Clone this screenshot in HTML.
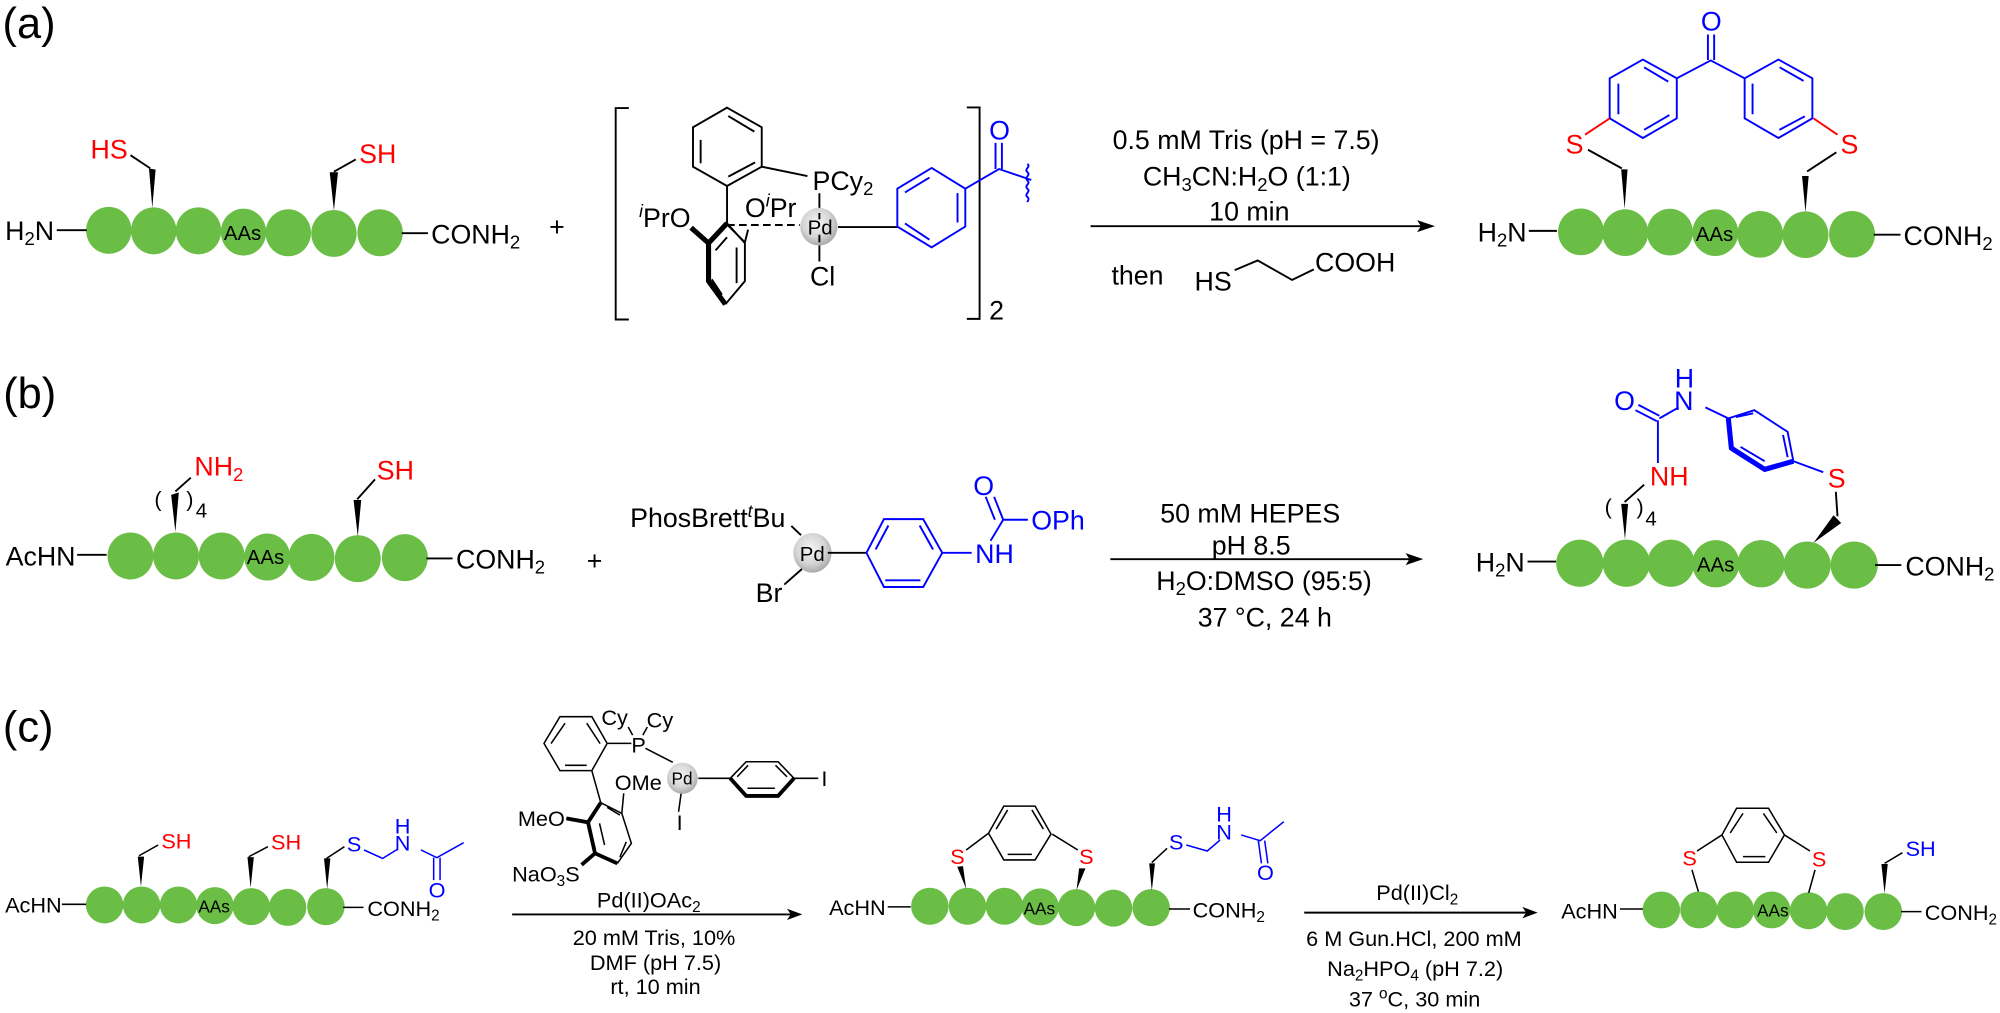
<!DOCTYPE html>
<html><head><meta charset="utf-8"><title>Scheme</title>
<style>
html,body{margin:0;padding:0;background:#fff;width:2000px;height:1013px;overflow:hidden}
svg{display:block}
text{font-family:"Liberation Sans",Arial,sans-serif;fill:#000}
.f21{font-size:21px}.f17{font-size:17px}.f16{font-size:16px}.f13{font-size:13.5px}.f34{font-size:34px}
.r{fill:#f00}.u{fill:#00f}
.k{stroke:#000;stroke-width:1.5;fill:none}
.kb{stroke:#000;stroke-width:4;fill:none;stroke-linejoin:round}
.kc{stroke:#000;stroke-width:1.2;fill:none}
.kd{stroke:#000;stroke-width:3;fill:none;stroke-linejoin:round}
.bl{stroke:#00f;stroke-width:1.5;fill:none}
.bc{stroke:#00f;stroke-width:1.2;fill:none}
.rl{stroke:#f00;stroke-width:1.5;fill:none}
.g{fill:#6abd45}
i{font-style:italic}
</style></head><body>
<svg width="2000" height="1013" viewBox="0 0 1568 794.2" preserveAspectRatio="none" xmlns="http://www.w3.org/2000/svg">
<defs><radialGradient id="pd" cx="45%" cy="40%" r="62%"><stop offset="0" stop-color="#f4f4f4"/><stop offset=".6" stop-color="#d6d6d6"/><stop offset="1" stop-color="#a6a6a6"/></radialGradient></defs>
<rect width="1568" height="795" fill="#fff"/>

<text class="f34" x="2" y="30">(a)</text>
<text class="f34" x="2.5" y="320">(b)</text>
<text class="f34" x="2.3" y="581.5">(c)</text>

<!-- PANEL A left -->
<g class="g"><ellipse cx="85.3" cy="180.6" rx="17.8" ry="18.4"/><ellipse cx="120.5" cy="181" rx="17.8" ry="18.4"/><ellipse cx="155.6" cy="181" rx="17.8" ry="18.4"/><ellipse cx="190.9" cy="182" rx="17.8" ry="18.4"/><ellipse cx="226" cy="182.5" rx="17.8" ry="18.4"/><ellipse cx="261.8" cy="183" rx="17.8" ry="18.4"/><ellipse cx="298" cy="182.5" rx="17.8" ry="18.4"/></g>
<path class="k" d="M44.5 180.5H68M315 182.8H335.5M102.3 121.7L117.7 131.9M278.9 125L261.8 134.6"/>
<path d="M116.8 132L122 133L119.4 163ZM258.5 135L265 135L261.8 165Z"/>
<text class="f21" x="4" y="188">H<tspan font-size="14.5" dy="4">2</tspan><tspan dy="-4">N</tspan></text>
<text class="f21 r" x="71" y="124.4">HS</text>
<text class="f21 r" x="281.6" y="128">SH</text>
<text class="f16" x="175.5" y="188">AAs</text>
<text class="f21" x="338" y="191">CONH<tspan font-size="14.5" dy="4">2</tspan></text>
<text class="f21" x="430.5" y="185">+</text>

<!-- brackets -->
<path class="k" d="M493 84.7H482.7V250.5H493M758 84.2H768V250H758"/>
<text class="f21" x="775.5" y="250.5">2</text>

<!-- catalyst a -->
<path class="k" d="M570 84.4L597.2 99.8V130.7L570 145.8L543.3 130.7V99.8ZM549.3 109.7V128M571 91L591.4 103.2M571 138.5L592 127.3M597.2 130.7L633 138M570 145.8V175M642.4 151.5V170M642.4 185.5V205M657 178H703.5"/>
<path class="k" stroke-dasharray="6 3.4" d="M570 176.4H627"/>
<path class="k" d="M570 175L584 190.6V220.4L568.7 238.5M577.5 194V222M561 196.3L570 186M558 219L566 231M570 176L584 190L586.5 180"/>
<path class="kb" d="M541.8 178.5L555.5 190.6L570 175M555.5 190.6V220.4L568.7 238.5"/>
<ellipse cx="642" cy="177.7" rx="14.6" ry="14.8" fill="url(#pd)"/>
<text class="f21" x="637" y="149">PCy<tspan font-size="14.5" dy="4">2</tspan></text>
<text class="f21" x="584" y="170">O<tspan font-size="14" font-style="italic" dy="-8">i</tspan><tspan dy="8">Pr</tspan></text>
<text class="f21" x="501" y="178"><tspan font-size="14" font-style="italic" dy="-8">i</tspan><tspan dy="8">PrO</tspan></text>
<path class="k" d="M642.4 167V172M642.4 184V190"/>
<text class="f16" x="633.2" y="184">Pd</text>
<text class="f21" x="635" y="224">Cl</text>
<path class="bl" d="M730.4 131.7L756.8 147.9V177.6L730.4 193.9L703.5 177.6V147.9ZM709.5 150.9L728.7 139.2M750.7 151.4V174.4M709.5 175.2L728.7 187.9M756.8 147.9L783.2 132.5L808.5 141.1M780.5 112V132.5M785.5 112V132.5M805.5 128.5c3 2.5 -3 4 0 6.5c3 2.5 -3 4 0 6.5c3 2.5 -3 4 0 6.5c3 2.5 -3 4 0 6.5c2 1.5 0 3 0 4"/>
<text class="f21 u" x="775.5" y="109.5">O</text>

<!-- arrow a -->
<path class="k" d="M855 177.3H1118"/><path d="M1125 177.3L1111 172.6L1114 177.3L1111 182Z"/>
<text class="f21" x="872.3" y="116.8">0.5 mM Tris (pH = 7.5)</text>
<text class="f21" x="896" y="145.6">CH<tspan font-size="14.5" dy="4">3</tspan><tspan dy="-4">CN:H</tspan><tspan font-size="14.5" dy="4">2</tspan><tspan dy="-4">O (1:1)</tspan></text>
<text class="f21" x="948" y="172.8">10 min</text>
<text class="f21" x="871.4" y="223">then</text>
<text class="f21" x="936.5" y="227.8">HS</text>
<path class="k" d="M968 211.8L986 204.2L1013 219.5L1030 211.2"/>
<text class="f21" x="1031" y="212.8">COOH</text>

<!-- product a -->
<g class="g"><ellipse cx="1239.5" cy="181.8" rx="18" ry="18.3"/><ellipse cx="1274.2" cy="182.4" rx="18" ry="18.3"/><ellipse cx="1309.2" cy="182" rx="18" ry="18.3"/><ellipse cx="1344.8" cy="182.4" rx="18" ry="18.3"/><ellipse cx="1380" cy="183.7" rx="18" ry="18.3"/><ellipse cx="1415.5" cy="184" rx="18" ry="18.3"/><ellipse cx="1452" cy="183.7" rx="18" ry="18.3"/></g>
<path class="k" d="M1198.6 181H1220.6M1469 184H1490M1245 117.4L1271.5 132M1416.8 134.4L1439.7 119.4"/>
<path d="M1271 132.8L1276 132.8L1273.7 163.8ZM1412.8 138L1418 138L1415.5 166.4Z"/>
<path class="bl" d="M1288 46.7L1314.6 61.4V92.8L1288 108.2L1262 92.8V61.4ZM1268.8 65.6V89.6M1289 52.8L1307.9 64M1289 101.8L1308.8 90.2M1394.3 46.7L1420.9 61.4V92.8L1394.3 108.2L1367.8 92.8V61.4ZM1374 65.6V89.6M1395.2 52.8L1414 63.4M1395 101.8L1415 91.2M1314.6 61.4L1341.2 47.4L1367.8 61.4M1339 27V47M1343.9 27V47"/>
<path class="rl" d="M1242.7 105.6L1262 92.8M1421.8 92.8L1440.6 105.6"/>
<text class="f21 u" x="1333.5" y="24">O</text>
<text class="f21 r" x="1227.5" y="120.3">S</text>
<text class="f21 r" x="1443" y="120.3">S</text>
<text class="f21" x="1158.5" y="189.4">H<tspan font-size="14.5" dy="4">2</tspan><tspan dy="-4">N</tspan></text>
<text class="f16" x="1329.5" y="188.8">AAs</text>
<text class="f21" x="1492.4" y="192">CONH<tspan font-size="14.5" dy="4">2</tspan></text>

<!-- PANEL B left -->
<g class="g"><ellipse cx="102.3" cy="435.9" rx="18" ry="18.4"/><ellipse cx="138" cy="435.9" rx="18" ry="18.4"/><ellipse cx="173.8" cy="435.9" rx="18" ry="18.4"/><ellipse cx="209.5" cy="436.7" rx="18" ry="18.4"/><ellipse cx="244.2" cy="437" rx="18" ry="18.4"/><ellipse cx="280.5" cy="438" rx="18" ry="18.4"/><ellipse cx="317.4" cy="437.2" rx="18" ry="18.4"/></g>
<path class="k" d="M60.5 435H83.6M334.4 437.8H354.8M149.6 374.5L137.5 385.3M294 375.8L280 391.5"/>
<path d="M134.2 388L140.2 386L137.5 417ZM277.2 392L283.2 392L280.5 420.5Z"/>
<text class="f21" x="4.4" y="443.4">AcHN</text>
<text class="f16" x="193.5" y="442">AAs</text>
<text class="f21" x="357.5" y="445.6">CONH<tspan font-size="14.5" dy="4">2</tspan></text>
<text class="f21" x="460" y="447">+</text>
<text class="f21 r" x="152.4" y="373">NH<tspan font-size="14.5" dy="4">2</tspan></text>
<text class="f21 r" x="295.4" y="375.8">SH</text>
<text class="f17" x="121" y="397">(</text><text class="f17" x="146" y="397">)</text>
<text class="f16" x="153.5" y="405.6">4</text>

<!-- catalyst b -->
<text class="f21" x="494" y="413.2">PhosBrett<tspan font-size="14" font-style="italic" dy="-8">t</tspan><tspan dy="8">Bu</tspan></text>
<ellipse cx="637" cy="433.4" rx="15" ry="15.5" fill="url(#pd)"/>
<text class="f16" x="627" y="440">Pd</text>
<path class="k" d="M620.4 412.3L628 419.6M628.7 446.1L614.9 458.3M649 433.4H679.3"/>
<text class="f21" x="592.4" y="471.8">Br</text>
<path class="bl" d="M679.3 433.4L693 407H723.8L738.7 433.4L723.8 460.2H693ZM686.5 430.8L696.5 412M731.5 430.8L721 412M694 455H721.6M738.7 433.4H761.8M776.6 424L786.5 407.5H805.8M780 407.5L772.8 389.5M786.5 407.5L779.4 389.5"/>
<text class="f21 u" x="764.5" y="441.5">NH</text>
<text class="f21 u" x="763" y="388">O</text>
<text class="f21 u" x="808.5" y="415">OPh</text>

<!-- arrow b -->
<path class="k" d="M870.5 438.4H1109"/><path d="M1115.8 438.4L1102 433.7L1105 438.4L1102 443.1Z"/>
<text class="f21" x="909.6" y="409.6">50 mM HEPES</text>
<text class="f21" x="950" y="434.6">pH 8.5</text>
<text class="f21" x="906.5" y="462.4">H<tspan font-size="14.5" dy="4">2</tspan><tspan dy="-4">O:DMSO (95:5)</tspan></text>
<text class="f21" x="939" y="491">37 °C, 24 h</text>

<!-- product b -->
<g class="g"><ellipse cx="1238.6" cy="441.6" rx="18.5" ry="18.5"/><ellipse cx="1275" cy="441.6" rx="18.5" ry="18.5"/><ellipse cx="1310" cy="441.6" rx="18.5" ry="18.5"/><ellipse cx="1345.2" cy="442" rx="18.5" ry="18.5"/><ellipse cx="1380.8" cy="442" rx="18.5" ry="18.5"/><ellipse cx="1416.8" cy="443" rx="18.5" ry="18.5"/><ellipse cx="1453.7" cy="443" rx="18.5" ry="18.5"/></g>
<path class="k" d="M1197.6 440.3H1220M1470 443H1490.6M1289 380L1273.7 393.6M1439.3 385.6L1440.6 404.8"/>
<path d="M1271 395L1276.4 395L1274 423ZM1437.5 404L1443.5 410L1421.8 425.6Z"/>
<path class="bl" d="M1299.8 363V329.6M1301 326L1284.5 317.4M1299 330.2L1282.2 321.6M1301 328L1316 319.4M1337 319.4L1355 328L1375.4 321.6L1401.5 338.6L1406 361.6L1429.4 370.2M1361 327L1374.5 324M1397.9 341L1401.5 358.4M1364.6 350.4L1383.5 361.6"/>
<path d="M1355 328L1357.4 351.4L1383.5 368L1406 361.6" fill="none" stroke="#00f" stroke-width="4" stroke-linejoin="round"/>
<text class="f21 u" x="1265.5" y="321.6">O</text>
<text class="f21 u" x="1312.5" y="321.6">N</text>
<text class="f21 u" x="1313" y="304">H</text>
<text class="f21 r" x="1293.5" y="380.8">NH</text>
<text class="f21 r" x="1433" y="382.4">S</text>
<text class="f17" x="1258" y="403">(</text><text class="f17" x="1283" y="403">)</text>
<text class="f16" x="1290" y="412">4</text>
<text class="f21" x="1157" y="448">H<tspan font-size="14.5" dy="4">2</tspan><tspan dy="-4">N</tspan></text>
<text class="f16" x="1330.4" y="448">AAs</text>
<text class="f21" x="1493.8" y="451.2">CONH<tspan font-size="14.5" dy="4">2</tspan></text>

<!-- PANEL C left -->
<g class="g"><ellipse cx="82" cy="709.5" rx="14.7" ry="14.5"/><ellipse cx="111" cy="709.5" rx="14.7" ry="14.5"/><ellipse cx="140" cy="709.5" rx="14.7" ry="14.5"/><ellipse cx="168.5" cy="710" rx="14.7" ry="14.5"/><ellipse cx="197" cy="710.8" rx="14.7" ry="14.5"/><ellipse cx="225.5" cy="711.4" rx="14.7" ry="14.5"/><ellipse cx="255.5" cy="710.8" rx="14.7" ry="14.5"/></g>
<path class="kc" d="M48.5 709H67.5M269 711.4H285M124 662.5L109 670.9M210 663.8L195 671.7M270 663.8L256 673"/>
<path d="M108 671.6L113 671.6L110.5 695ZM194 672L199 672L196.5 696ZM254 673L259 673L256.5 697Z"/>
<text class="f17" x="4" y="715.5">AcHN</text>
<text class="f13" x="155.5" y="715.5">AAs</text>
<text class="f17" x="288" y="718">CONH<tspan font-size="12" dy="3.5">2</tspan></text>
<text class="f17 r" x="126.5" y="665.4">SH</text>
<text class="f17 r" x="212.5" y="666">SH</text>
<path class="bc" d="M285.5 666.4L300 673L311.5 665.9M330 666.4L342.5 672.4L363.5 660.7M340 672.4V690M345 672.4V690"/>
<text class="f17 u" x="272" y="667.7">S</text>
<text class="f17 u" x="309.5" y="667">N</text>
<text class="f17 u" x="309.5" y="653.4">H</text>
<text class="f17 u" x="336" y="703.5">O</text>

<!-- catalyst c -->
<path class="kc" d="M439 561.9H464L476 582.8L464 604.2H439L426.5 582.8ZM443 567L432 583M460 567L470.5 583M443 600H460M476 582.8H495M492.5 570L496 576.3M507.5 570L504 576.3M506 586.7L527.5 597.7M464 604.2L471 629.3M471 629.3L487.5 637.7L495 661.2L484 676.9M476 633L486 639M486 672L491 660M470 645.5L474 662.5M487.5 637.7L489 622M547.5 610.2H572.5L585 597.2H610L622.5 610.2H641.5M586 618H607.5M578 609L586.5 600M608 600L617 609M534 622L532 636.4"/>
<path class="kd" d="M471 629.3L461 644.7L466.5 669L484 676.9M444 641.6L461 644.7M466.5 669L456 678M572.5 610.2L585 624H610L622.5 610.2"/>
<ellipse cx="535" cy="610.2" rx="12" ry="12.2" fill="url(#pd)"/>
<text class="f13" x="526.5" y="615">Pd</text>
<text class="f17" x="471.5" y="568.4">Cy</text>
<text class="f17" x="507" y="570.3">Cy</text>
<text class="f17" x="495" y="589.9">P</text>
<text class="f17" x="644" y="616.3">I</text>
<text class="f17" x="530.5" y="650.7">I</text>
<text class="f17" x="482" y="619.4">OMe</text>
<text class="f17" x="406" y="647.6">MeO</text>
<text class="f17" x="401.5" y="691">NaO<tspan font-size="12" dy="3.5">3</tspan><tspan dy="-3.5">S</tspan></text>

<!-- arrow c1 -->
<path class="k" d="M401.5 716.9H623"/><path d="M629 716.9L617 712.5L620 716.9L617 721.3Z"/>
<text class="f17" x="468" y="711.4">Pd(II)OAc<tspan font-size="12" dy="3.5">2</tspan></text>
<text class="f17" x="449" y="741">20 mM Tris, 10%</text>
<text class="f17" x="462.5" y="760.5">DMF (pH 7.5)</text>
<text class="f17" x="478.5" y="779.3">rt, 10 min</text>

<!-- middle product c -->
<g class="g"><ellipse cx="729" cy="710.5" rx="14.7" ry="14.5"/><ellipse cx="758.5" cy="710.5" rx="14.7" ry="14.5"/><ellipse cx="787.5" cy="710.5" rx="14.7" ry="14.5"/><ellipse cx="815.5" cy="711" rx="14.7" ry="14.5"/><ellipse cx="844" cy="711.6" rx="14.7" ry="14.5"/><ellipse cx="873" cy="712" rx="14.7" ry="14.5"/><ellipse cx="902.5" cy="711.6" rx="14.7" ry="14.5"/></g>
<path class="kc" d="M696 711H714M916.5 712.7H933M757.5 666.4L775 653.3L787 632H811.5L824 653.9L811.5 674.2H787L775 653.3M781 650L790 635M818 650L809 635M790 669.8H809M825 654L845 666.4M915 665.1L903 676.3"/>
<path d="M750.5 679.5L755 679L757.5 697ZM846 680.8L851 680.8L844 697.8ZM901 676.9L905.5 676.9L903 698.5Z"/>
<path class="bc" d="M930 662.5L946.5 667.2L956.5 658.6M973 654.6L988 659.1L1006.5 644.2M986.5 659L989 676.9M991.5 659L994 676.9"/>
<text class="f17 r" x="745" y="677.4">S</text>
<text class="f17 r" x="846" y="677.4">S</text>
<text class="f17 u" x="916.5" y="666">S</text>
<text class="f17 u" x="953.5" y="658">N</text>
<text class="f17 u" x="953.5" y="644.2">H</text>
<text class="f17 u" x="985.5" y="690">O</text>
<text class="f17" x="650" y="717.4">AcHN</text>
<text class="f13" x="802.5" y="716.8">AAs</text>
<text class="f17" x="935" y="719.2">CONH<tspan font-size="12" dy="3.5">2</tspan></text>

<!-- arrow c2 -->
<path class="k" d="M1022.5 715.5H1199"/><path d="M1205.5 715.5L1193.5 711L1196.5 715.5L1193.5 720Z"/>
<text class="f17" x="1079" y="705.6">Pd(II)Cl<tspan font-size="12" dy="3.5">2</tspan></text>
<text class="f17" x="1024" y="741.7">6 M Gun.HCl, 200 mM</text>
<text class="f17" x="1040.5" y="765.2">Na<tspan font-size="12" dy="3.5">2</tspan><tspan dy="-3.5">HPO</tspan><tspan font-size="12" dy="3.5">4</tspan><tspan dy="-3.5"> (pH 7.2)</tspan></text>
<text class="f17" x="1057.5" y="789">37 <tspan font-size="12" dy="-6">o</tspan><tspan dy="6">C, 30 min</tspan></text>

<!-- right product c -->
<g class="g"><ellipse cx="1302.5" cy="713.4" rx="14.7" ry="14.5"/><ellipse cx="1332" cy="713.4" rx="14.7" ry="14.5"/><ellipse cx="1360.5" cy="713.4" rx="14.7" ry="14.5"/><ellipse cx="1389" cy="713.4" rx="14.7" ry="14.5"/><ellipse cx="1418" cy="714" rx="14.7" ry="14.5"/><ellipse cx="1446.5" cy="714.7" rx="14.7" ry="14.5"/><ellipse cx="1476.5" cy="714.7" rx="14.7" ry="14.5"/></g>
<path class="kc" d="M1270 712.7H1288M1490.5 714.7H1506.5M1330.5 667.2L1350 654.6L1361.5 633.7H1386.5L1399 654.6L1386.5 676H1361.5L1350 654.6M1356.5 653L1366.5 637.7M1393 653L1382.5 637.7M1366.5 671.6H1384M1399 654.6L1419 667.2M1326.5 682L1331.5 699M1423 682L1418 700M1491.5 668.5L1477.5 676.9"/>
<path d="M1475 677.4L1480 677.4L1477.5 700.4Z"/>
<text class="f17 r" x="1319" y="678.7">S</text>
<text class="f17 r" x="1420.5" y="679.5">S</text>
<text class="f17 u" x="1494" y="671">SH</text>
<text class="f17" x="1224" y="720">AcHN</text>
<text class="f13" x="1377.5" y="718.7">AAs</text>
<text class="f17" x="1509" y="721.3">CONH<tspan font-size="12" dy="3.5">2</tspan></text>
</svg>
</body></html>
